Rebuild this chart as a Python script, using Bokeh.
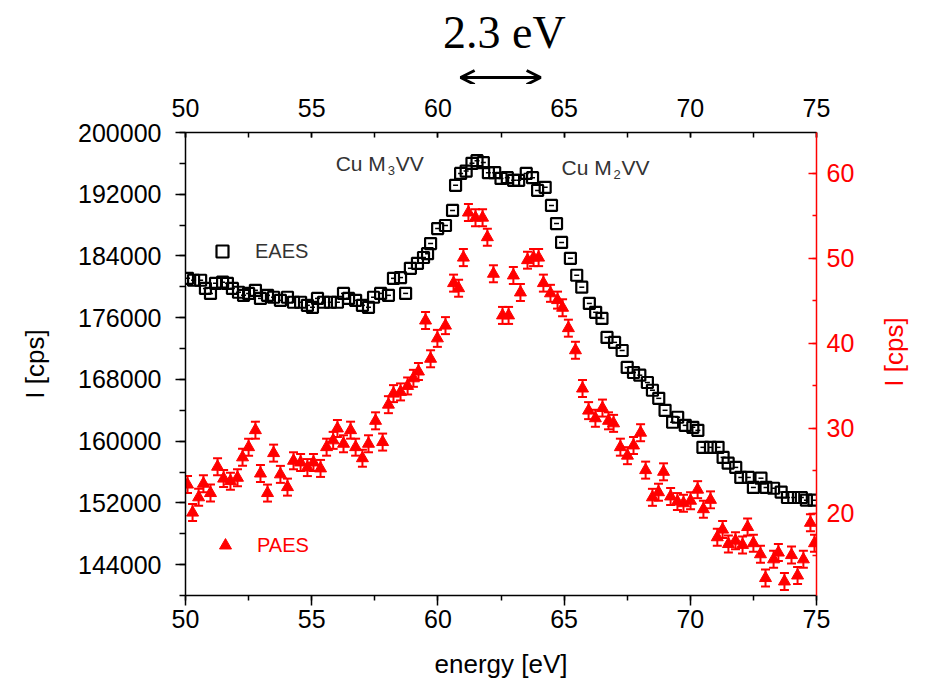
import math
from bokeh.plotting import figure
from bokeh.layouts import column, row
from bokeh.models import (Range1d, LinearAxis, FixedTicker, BasicTickFormatter, Label,
                          Arrow, OpenHead, Legend, LegendItem, ColumnDataSource, Whisker, TeeHead)
from bokeh.embed import file_html
from bokeh.resources import INLINE

# ---------------- data ----------------
eaes_energy = [50.08, 50.32, 50.60, 50.79, 50.99, 51.19, 51.47, 51.66, 51.86, 52.10,
               52.30, 52.50, 52.77, 52.97, 53.25, 53.49, 53.76, 54.04, 54.28, 54.56,
               54.83, 55.03, 55.23, 55.47, 55.74, 56.02, 56.26, 56.46, 56.74, 57.01,
               57.25, 57.45, 57.73, 58.04, 58.24, 58.52, 58.72, 58.91, 59.19, 59.43,
               59.59, 59.71, 59.99, 60.30, 60.58, 60.70, 60.90, 61.12, 61.35, 61.55,
               61.80, 62.00, 62.25, 62.50, 62.75, 63.00, 63.20, 63.50, 63.75, 63.95,
               64.25, 64.50, 64.70, 64.90, 65.25, 65.50, 65.70, 66.00, 66.25, 66.50,
               66.70, 67.00, 67.30, 67.50, 67.75, 68.00, 68.30, 68.50, 68.75, 69.00,
               69.30, 69.50, 69.80, 70.10, 70.30, 70.50, 70.80, 71.10, 71.30, 71.50,
               71.80, 72.00, 72.30, 72.50, 72.80, 73.00, 73.30, 73.60, 73.85, 74.10,
               74.40, 74.60, 74.90]
eaes_counts = [181100, 180850, 180850, 179800, 179150, 180450, 180600, 180450, 179800, 179300,
               178900, 179150, 179550, 178500, 178900, 178650, 178250, 178650, 178000, 178000,
               177600, 177350, 178500, 178000, 178000, 178000, 179150, 178500, 178250, 177600,
               177350, 178650, 179150, 178900, 181100, 181200, 179150, 182400, 183050, 183800,
               184300, 185600, 187550, 187950, 189900, 193150, 194700, 195000, 196000, 196350,
               196100, 194800, 194800, 194050, 194150, 193800, 193800, 194700, 194150, 192500,
               192900, 190550, 188200, 185750, 183700, 181500, 179950, 177850, 176700, 175900,
               173450, 172800, 171750, 169550, 168900, 168550, 167600, 166600, 165550, 164000,
               162450, 163100, 162050, 161800, 161400, 159200, 159200, 159200, 157900, 157150,
               156600, 155300, 155300, 154000, 155200, 154000, 153900, 153400, 152700, 152700,
               152700, 152350, 152350]

paes_energy = [50.08, 50.28, 50.52, 50.71, 50.99, 51.27, 51.51, 51.78, 52.06, 52.26,
               52.50, 52.77, 52.97, 53.25, 53.49, 53.76, 54.04, 54.28, 54.56, 54.83,
               55.07, 55.35, 55.59, 55.85, 56.02, 56.26, 56.54, 56.74, 57.01, 57.25,
               57.53, 57.81, 58.04, 58.24, 58.52, 58.80, 59.03, 59.23, 59.51, 59.71,
               59.98, 60.30, 60.62, 60.82, 61.01, 61.21, 61.49, 61.77, 61.96, 62.20,
               62.56, 62.80, 62.99, 63.27, 63.55, 63.79, 63.99, 64.18, 64.46, 64.74,
               64.94, 65.17, 65.45, 65.73, 65.97, 66.24, 66.52, 66.76, 66.96, 67.23,
               67.51, 67.75, 68.03, 68.23, 68.50, 68.74, 68.94, 69.22, 69.49, 69.73,
               70.01, 70.29, 70.52, 70.80, 71.07, 71.28, 71.51, 71.79, 72.07, 72.27,
               72.50, 72.78, 72.98, 73.30, 73.49, 73.73, 74.01, 74.25, 74.48, 74.76,
               74.92]
paes_counts = [23.4, 20.1, 21.9, 23.5, 22.4, 25.5, 24.1, 23.8, 24.2, 26.6,
               27.8, 29.8, 24.7, 22.4, 27.1, 24.6, 23.1, 26.2, 26.0, 25.4,
               26.0, 25.3, 27.8, 28.6, 30.0, 28.2, 29.8, 27.8, 26.5, 28.2,
               30.9, 28.4, 32.8, 34.1, 34.3, 35.0, 35.9, 36.7, 42.7, 38.2,
               40.6, 42.1, 47.1, 46.5, 50.1, 55.4, 54.8, 54.8, 52.5, 48.2,
               43.3, 43.3, 48.0, 46.0, 49.8, 50.1, 50.1, 47.1, 45.9, 45.1,
               44.2, 41.8, 39.2, 34.7, 32.1, 31.2, 32.4, 30.9, 30.6, 27.8,
               26.8, 28.0, 29.5, 25.1, 21.9, 22.5, 24.9, 22.0, 21.4, 21.2,
               21.5, 22.8, 20.5, 21.6, 17.2, 18.1, 16.4, 16.8, 16.3, 18.4,
               16.5, 15.2, 12.4, 14.6, 15.4, 12.0, 15.1, 12.7, 14.6, 18.9,
               16.5]
paes_error = 1.0

x_major = [50, 55, 60, 65, 70, 75]
x_minor = [50, 52.5, 55, 57.5, 60, 62.5, 65, 67.5, 70, 72.5, 75]
left_major = [144000, 152000, 160000, 168000, 176000, 184000, 192000, 200000]
left_minor = [140000, 144000, 148000, 152000, 156000, 160000, 164000, 168000, 172000,
              176000, 180000, 184000, 188000, 192000, 196000, 200000]
right_major = [20, 30, 40, 50, 60]
right_minor = [15, 20, 25, 30, 35, 40, 45, 50, 55, 60]

peak_span = (60.9, 64.07)   # arrow drawn above the plot
peak_span_text = "2.3 eV"

RED = "#ff0000"
FONT = "Liberation Sans"
TOP_H = 84
STRIP_W = 60

x_range = Range1d(50, 75)
y_left = Range1d(140000, 200000)
y_right = Range1d(10.35, 64.82)

# ---------------- header strip with the 2.3 eV arrow ----------------
head = figure(width=926, height=TOP_H, output_backend="svg", toolbar_location=None,
              x_range=x_range, y_range=Range1d(0, TOP_H),
              x_axis_location=None, y_axis_location=None,
              min_border_left=185, min_border_right=110, min_border_top=0, min_border_bottom=0)
head.outline_line_color = None
head.xgrid.visible = False
head.ygrid.visible = False
head.add_layout(Label(x=sum(peak_span) / 2 + 0.15, y=TOP_H - 32, text=peak_span_text,
                      text_align="center", text_baseline="middle",
                      text_font="Liberation Serif", text_font_size="46px", text_color="black"))
head.add_layout(Arrow(x_start=peak_span[0], y_start=TOP_H - 77, x_end=peak_span[1], y_end=TOP_H - 77,
                      start=OpenHead(size=14, line_width=3, line_color="black"),
                      end=OpenHead(size=14, line_width=3, line_color="black"),
                      line_width=3, line_color="black"))

# ---------------- main plot ----------------
p = figure(width=926 - STRIP_W, height=690 - TOP_H, output_backend="svg", toolbar_location=None,
           x_range=x_range, y_range=y_left,
           x_axis_location=None, y_axis_location=None,
           min_border_left=185, min_border_right=110 - STRIP_W, min_border_top=132 - TOP_H,
           min_border_bottom=95)
p.extra_y_ranges = {"right": y_right}
p.outline_line_color = None
p.xgrid.visible = False
p.ygrid.visible = False
p.background_fill_color = "white"
p.border_fill_color = "white"


def style(ax, color="black"):
    ax.axis_line_color = color
    ax.axis_line_width = 1.5
    ax.major_tick_line_color = color
    ax.minor_tick_line_color = color
    ax.major_tick_line_width = 1.5
    ax.minor_tick_line_width = 1.5
    ax.major_label_text_font = FONT
    ax.major_label_text_font_size = "25px"
    ax.major_label_text_color = color
    ax.axis_label_text_font = FONT
    ax.axis_label_text_font_size = "26px"
    ax.axis_label_text_font_style = "normal"
    ax.axis_label_text_color = color


bottom = LinearAxis(ticker=FixedTicker(ticks=x_major, minor_ticks=x_minor), axis_label="energy [eV]")
style(bottom)
bottom.major_tick_out = 10
bottom.major_tick_in = 0
bottom.minor_tick_out = 5
bottom.minor_tick_in = 0
bottom.major_label_standoff = 4
bottom.axis_label_standoff = 18
p.add_layout(bottom, "below")

top = LinearAxis(ticker=FixedTicker(ticks=x_major, minor_ticks=x_minor))
style(top)
top.major_tick_out = 0
top.major_tick_in = 5
top.minor_tick_out = 0
top.minor_tick_in = 5
top.major_label_standoff = 16
p.add_layout(top, "above")

left = LinearAxis(ticker=FixedTicker(ticks=left_major, minor_ticks=left_minor),
                  formatter=BasicTickFormatter(use_scientific=False), axis_label="I [cps]")
style(left)
left.major_tick_out = 10
left.major_tick_in = 0
left.minor_tick_out = 6
left.minor_tick_in = 0
left.major_label_standoff = 14
left.axis_label_standoff = 25
p.add_layout(left, "left")

right = LinearAxis(y_range_name="right", ticker=FixedTicker(ticks=right_major, minor_ticks=right_minor))
style(right, RED)
right.major_tick_out = 0
right.major_tick_in = 8
right.minor_tick_out = 0
right.minor_tick_in = 4
right.major_label_standoff = 10
p.add_layout(right, "right")

# ---------------- right-hand strip carrying the red axis title ----------------
strip = figure(width=STRIP_W, height=690 - TOP_H, output_backend="svg", toolbar_location=None,
               x_range=Range1d(0, STRIP_W), y_range=y_right,
               x_axis_location=None, y_axis_location=None,
               min_border_left=0, min_border_right=0, min_border_top=132 - TOP_H,
               min_border_bottom=95)
strip.outline_line_color = None
strip.xgrid.visible = False
strip.ygrid.visible = False
strip.add_layout(Label(x=27, y=39.0, text="I [cps]",
                       angle=math.pi / 2, text_align="center", text_baseline="middle",
                       text_color=RED, text_font=FONT, text_font_size="26px"))

# ---------------- data glyphs ----------------
eaes_src = ColumnDataSource(dict(x=eaes_energy, y=eaes_counts))
r_eaes = p.scatter("x", "y", source=eaes_src, marker="square", size=11,
                   fill_color=None, line_color="black", line_width=2.2)
p.scatter("x", "y", source=eaes_src, marker="dash", size=5, line_color="black", line_width=1.5)

paes_src = ColumnDataSource(dict(x=paes_energy, y=paes_counts,
                                 upper=[v + paes_error for v in paes_counts],
                                 lower=[v - paes_error for v in paes_counts]))
p.add_layout(Whisker(source=paes_src, base="x", upper="upper", lower="lower", dimension="height",
                     y_range_name="right", line_color=RED, line_width=2,
                     upper_head=TeeHead(size=9, line_color=RED, line_width=2),
                     lower_head=TeeHead(size=9, line_color=RED, line_width=2)))
r_paes = p.scatter("x", "y", source=paes_src, y_range_name="right", marker="triangle", size=12,
                   fill_color=RED, line_color=RED)

# ---------------- legends ----------------
def make_legend(label, rend, loc, color, standoff):
    return Legend(items=[LegendItem(label=label, renderers=[rend])], location=loc,
                  background_fill_alpha=0, border_line_color=None, padding=0, margin=0,
                  glyph_width=30, glyph_height=30, label_standoff=standoff, label_height=30,
                  label_text_font=FONT, label_text_font_size="20px", label_text_color=color)

p.add_layout(make_legend("EAES", r_eaes, (22, 329), "#333333", 18))
p.add_layout(make_legend("PAES", r_paes, (25, 35), RED, 17))

# ---------------- peak annotations ----------------
def peak_label(x, y, sub):
    kw = dict(x=x, y=y, text_baseline="middle", text_align="left", text_font=FONT,
              text_color="#333333")
    p.add_layout(Label(text="Cu M", text_font_size="21px", **kw))
    p.add_layout(Label(text=sub, text_font_size="13px", x_offset=52, y_offset=-7, **kw))
    p.add_layout(Label(text="VV", text_font_size="21px", x_offset=60, **kw))

peak_label(55.95, 195985, "3")
peak_label(64.90, 195470, "2")

layout = column(head, row(p, strip, spacing=0), spacing=0)
open("out.html", "w").write(file_html(layout, INLINE))
